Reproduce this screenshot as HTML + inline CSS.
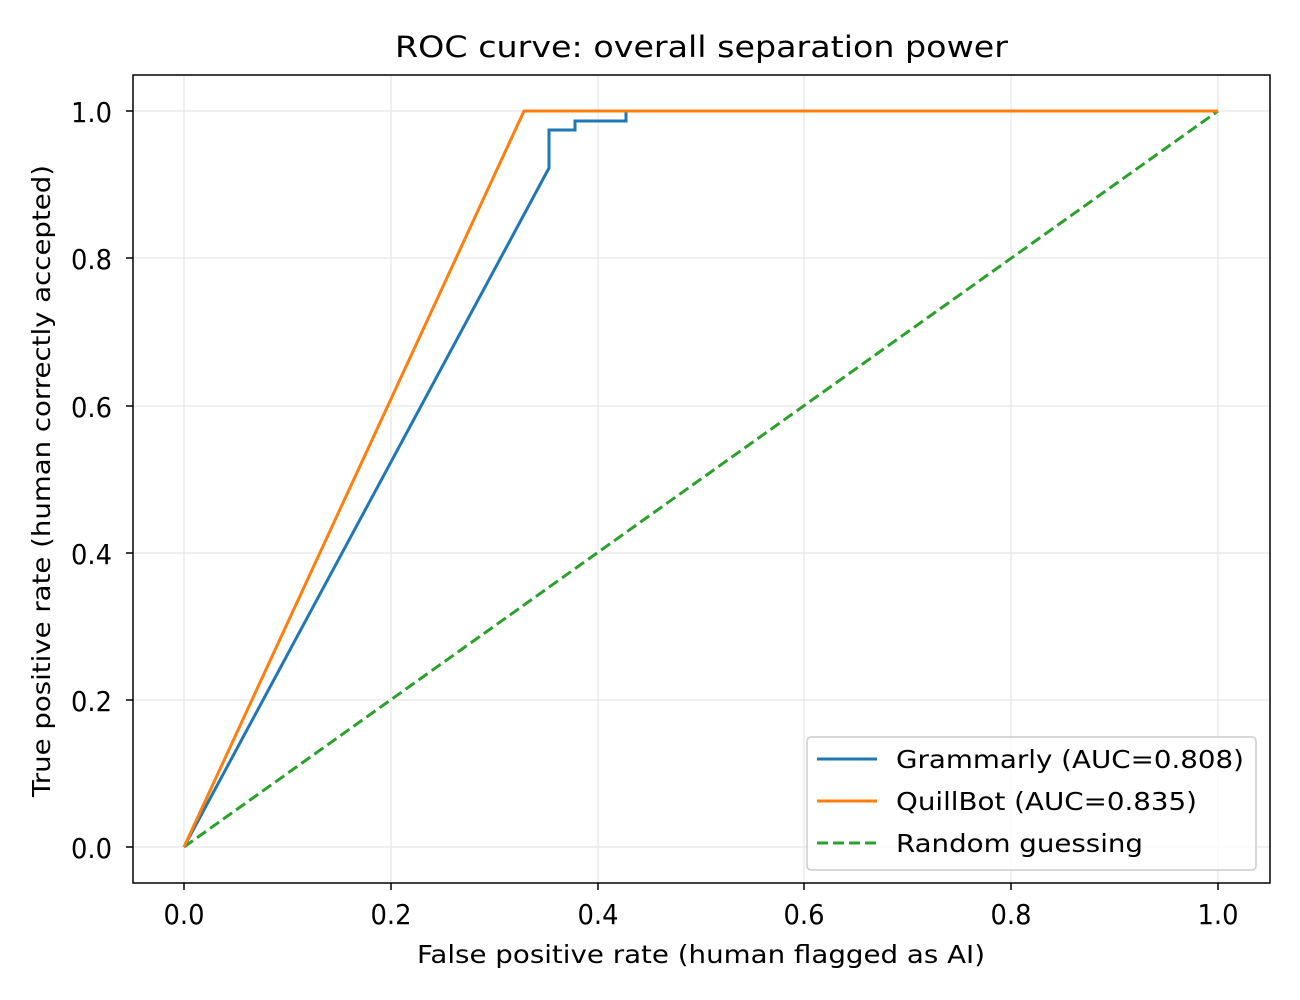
<!DOCTYPE html>
<html><head><style>body{margin:0;background:#fff}svg{display:block}text{font-family:"DejaVu Sans","Liberation Sans",sans-serif;fill:#000}</style></head><body>
<svg width="1300" height="1000" xmlns="http://www.w3.org/2000/svg">
<rect width="1300" height="1000" fill="#fff"/>
<g stroke="#e6e6e6" stroke-width="1.2">
<line x1="184" y1="75" x2="184" y2="883"/><line x1="391" y1="75" x2="391" y2="883"/><line x1="598" y1="75" x2="598" y2="883"/><line x1="804" y1="75" x2="804" y2="883"/><line x1="1011" y1="75" x2="1011" y2="883"/><line x1="1218" y1="75" x2="1218" y2="883"/>
<line x1="133" y1="847" x2="1270" y2="847"/><line x1="133" y1="700" x2="1270" y2="700"/><line x1="133" y1="553" x2="1270" y2="553"/><line x1="133" y1="406" x2="1270" y2="406"/><line x1="133" y1="258" x2="1270" y2="258"/><line x1="133" y1="111" x2="1270" y2="111"/>
</g>
<polyline points="184,847 1218,111" fill="none" stroke="#2ca02c" stroke-width="3" stroke-dasharray="11,5"/>
<polyline points="184,847 549,168 549,130 575,130 575,121 626,121 626,111 1218,111" fill="none" stroke="#1f77b4" stroke-width="3"/>
<polyline points="184,847 524,111 1218,111" fill="none" stroke="#ff7f0e" stroke-width="3"/>
<rect x="133" y="75" width="1137" height="808" fill="none" stroke="#000" stroke-width="1.5"/>
<g stroke="#000" stroke-width="1.5">
<line x1="184" y1="883" x2="184" y2="890"/><line x1="391" y1="883" x2="391" y2="890"/><line x1="598" y1="883" x2="598" y2="890"/><line x1="804" y1="883" x2="804" y2="890"/><line x1="1011" y1="883" x2="1011" y2="890"/><line x1="1218" y1="883" x2="1218" y2="890"/>
<line x1="126" y1="847" x2="133" y2="847"/><line x1="126" y1="700" x2="133" y2="700"/><line x1="126" y1="553" x2="133" y2="553"/><line x1="126" y1="406" x2="133" y2="406"/><line x1="126" y1="258" x2="133" y2="258"/><line x1="126" y1="111" x2="133" y2="111"/>
</g>
<g font-size="28" text-anchor="middle">
<text x="184" y="924" textLength="41" lengthAdjust="spacingAndGlyphs">0.0</text><text x="391" y="924" textLength="41" lengthAdjust="spacingAndGlyphs">0.2</text><text x="598" y="924" textLength="41" lengthAdjust="spacingAndGlyphs">0.4</text><text x="804" y="924" textLength="41" lengthAdjust="spacingAndGlyphs">0.6</text><text x="1011" y="924" textLength="41" lengthAdjust="spacingAndGlyphs">0.8</text><text x="1218" y="924" textLength="41" lengthAdjust="spacingAndGlyphs">1.0</text>
</g>
<g font-size="28">
<text x="71" y="858" textLength="41" lengthAdjust="spacingAndGlyphs">0.0</text><text x="71" y="711" textLength="41" lengthAdjust="spacingAndGlyphs">0.2</text><text x="71" y="564" textLength="41" lengthAdjust="spacingAndGlyphs">0.4</text><text x="71" y="417" textLength="41" lengthAdjust="spacingAndGlyphs">0.6</text><text x="71" y="269" textLength="41" lengthAdjust="spacingAndGlyphs">0.8</text><text x="71" y="122" textLength="41" lengthAdjust="spacingAndGlyphs">1.0</text>
</g>
<text x="417" y="963" font-size="25" textLength="568" lengthAdjust="spacingAndGlyphs">False positive rate (human flagged as AI)</text>
<text transform="translate(50,797) rotate(-90)" font-size="25" textLength="632" lengthAdjust="spacingAndGlyphs">True positive rate (human correctly accepted)</text>
<text x="395" y="57" font-size="29" textLength="613" lengthAdjust="spacingAndGlyphs">ROC curve: overall separation power</text>
<rect x="807" y="737" width="449" height="133" rx="4" fill="#fff" fill-opacity="0.8" stroke="#ccc" stroke-width="1.5"/>
<line x1="817" y1="759" x2="877" y2="759" stroke="#1f77b4" stroke-width="3"/>
<line x1="817" y1="801" x2="877" y2="801" stroke="#ff7f0e" stroke-width="3"/>
<line x1="817" y1="843" x2="877" y2="843" stroke="#2ca02c" stroke-width="3" stroke-dasharray="11,5"/>
<g font-size="25"><text x="896" y="768" textLength="348" lengthAdjust="spacingAndGlyphs">Grammarly (AUC=0.808)</text><text x="896" y="810" textLength="301" lengthAdjust="spacingAndGlyphs">QuillBot (AUC=0.835)</text><text x="896" y="852" textLength="247" lengthAdjust="spacingAndGlyphs">Random guessing</text></g>
</svg>
</body></html>
